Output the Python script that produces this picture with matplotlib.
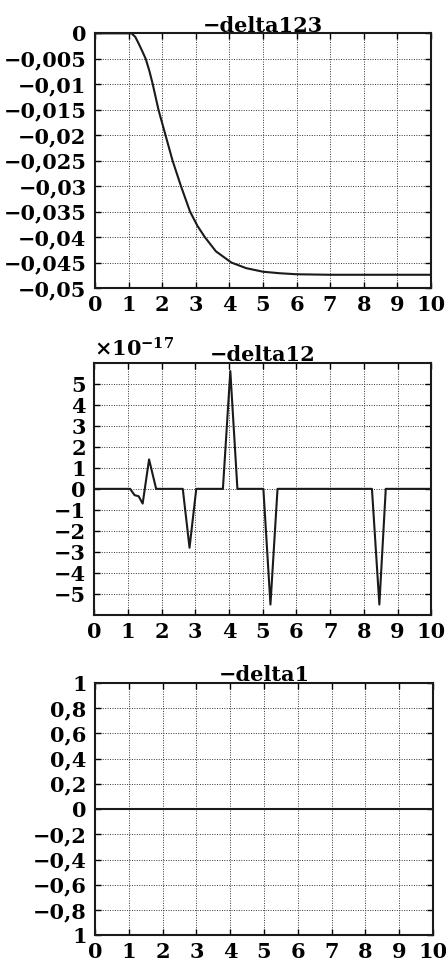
import matplotlib.pyplot as plt

plt.rcParams["font.family"] = ["DejaVu Serif"]
plt.rcParams["font.weight"] = "bold"
plt.rcParams["mathtext.fontset"] = "dejavuserif"

# -delta123
t123 = [0, 0.5, 1.0, 1.09, 1.2, 1.3, 1.4, 1.51, 1.62, 1.72, 1.89, 2.1, 2.31,
        2.56, 2.83, 3.05, 3.27, 3.6, 4.06, 4.5, 5.0, 5.5, 6.0, 7, 8, 9, 10]
d123 = [0, 0, 0, 0, -0.0007, -0.002, -0.0034, -0.005, -0.0074, -0.01, -0.015,
        -0.02, -0.025, -0.03, -0.035, -0.0378, -0.04, -0.0428, -0.045, -0.0461,
        -0.0468, -0.0471, -0.0473, -0.0474, -0.0474, -0.0474, -0.0474]

# -delta12, in units of 1e-17
t12 = [0, 1.07, 1.2, 1.32, 1.44, 1.63, 1.84, 2.63, 2.83, 3.03, 3.82, 4.04,
       4.25, 5.02, 5.23, 5.44, 8.24, 8.46, 8.65, 10]
d12 = [0, 0, -0.3, -0.35, -0.7, 1.4, 0, 0, -2.8, 0, 0, 5.6,
       0, 0, -5.5, 0, 0, -5.5, 0, 0]

# -delta1
t1 = [0, 10]
d1 = [0, 0]

xticks = list(range(11))
yticks123 = [0, -0.005, -0.01, -0.015, -0.02, -0.025, -0.03, -0.035, -0.04, -0.045, -0.05]
ylabels123 = ["0", "\u22120,005", "\u22120,01", "\u22120,015", "\u22120,02", "\u22120,025",
              "\u22120,03", "\u22120,035", "\u22120,04", "\u22120,045", "\u22120,05"]
yticks12 = [5, 4, 3, 2, 1, 0, -1, -2, -3, -4, -5]
yticks1 = [1, 0.8, 0.6, 0.4, 0.2, 0, -0.2, -0.4, -0.6, -0.8, -1]
ylabels1 = ["1", "0,8", "0,6", "0,4", "0,2", "0", "\u22120,2", "\u22120,4",
            "\u22120,6", "\u22120,8", "1"]

FS = 15


def style(ax, title):
    ax.set_xlim(0, 10)
    ax.set_xticks(xticks)
    ax.set_xticklabels([str(v) for v in xticks], fontsize=FS)
    ax.grid(True, linestyle=(0, (1, 1.5)), color="#333333", linewidth=0.7)
    ax.tick_params(direction="in", length=4, width=1, top=True, right=True,
                   labelsize=FS)
    ax.tick_params(axis="y", pad=6)
    ax.tick_params(axis="x", pad=5)
    for s in ax.spines.values():
        s.set_linewidth(1.5)
        s.set_color("#1a1a1a")
    ax.set_title(title, fontsize=FS, fontweight="bold", pad=1)


fig = plt.figure(figsize=(4.46, 9.61), dpi=100)

ax1 = fig.add_axes([0.213, 0.7003, 0.753, 0.265])
ax1.plot(t123, d123, color="#1a1a1a", linewidth=1.5)
ax1.set_ylim(-0.05, 0)
ax1.set_yticks(yticks123)
ax1.set_yticklabels(ylabels123, fontsize=FS)
style(ax1, "\u2212delta123")

ax2 = fig.add_axes([0.211, 0.360, 0.756, 0.2626])
ax2.plot(t12, [v * 1e-17 for v in d12], color="#1a1a1a", linewidth=1.5)
ax2.set_ylim(-6e-17, 6e-17)
ax2.set_yticks([v * 1e-17 for v in yticks12])
ax2.set_yticklabels([str(v).replace("-", "\u2212") for v in yticks12], fontsize=FS)
style(ax2, "\u2212delta12")
ax2.text(0, 1.01, r"$\times10^{-17}$", transform=ax2.transAxes, fontsize=FS,
         ha="left", va="bottom")

ax3 = fig.add_axes([0.213, 0.0267, 0.758, 0.2628])
ax3.plot(t1, d1, color="#1a1a1a", linewidth=1.5)
ax3.set_ylim(-1, 1)
ax3.set_yticks(yticks1)
ax3.set_yticklabels(ylabels1, fontsize=FS)
style(ax3, "\u2212delta1")

fig.savefig("out.png", dpi=100)
